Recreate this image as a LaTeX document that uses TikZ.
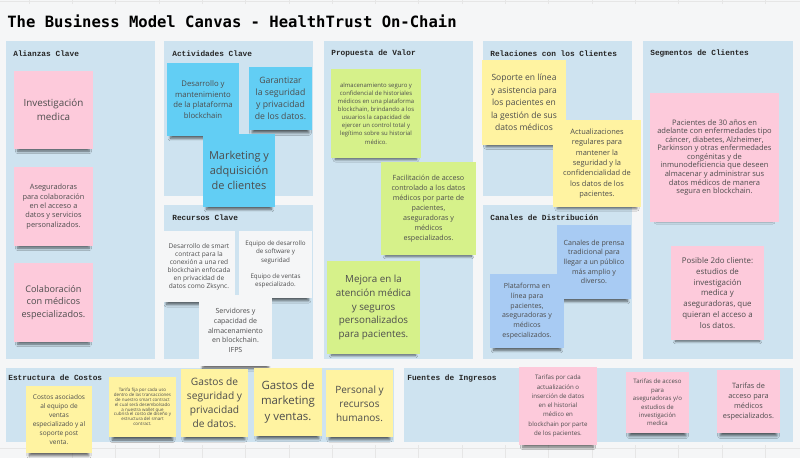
\documentclass[tikz,border=0pt]{standalone}
\usepackage{fontspec}
\usepackage{tikz}
\usetikzlibrary{shadows.blur}
\setmainfont{Open Sans}
\newfontfamily\titlefont{DejaVu Sans Mono}
\newfontfamily\headfont{Liberation Mono}
\newcommand\fs[2]{\fontsize{#1}{#2}\selectfont}
\definecolor{panelblue}{RGB}{206,227,240}
\definecolor{notepink}{RGB}{253,202,219}
\definecolor{notecyan}{RGB}{98,206,244}
\definecolor{notegreen}{RGB}{214,241,138}
\definecolor{noteyellow}{RGB}{255,243,161}
\definecolor{noteblue}{RGB}{168,203,243}
\definecolor{notewhite}{RGB}{245,246,247}
\definecolor{notetext}{RGB}{77,77,77}
\definecolor{gridgrey}{RGB}{230,230,230}

\begin{document}
\begin{tikzpicture}[x=0.02cm,y=-0.02cm,
  panel/.style={fill=panelblue},
  head/.style={anchor=west,inner sep=0pt,text=black!85,
    font=\headfont\bfseries\fs{4.45}{5}},
  wh/.style 2 args={minimum width=#1*0.02cm,minimum height=#2*0.02cm},
  note/.style={inner sep=0pt,align=center,text=notetext,
    blur shadow={shadow xshift=0pt,shadow yshift=-3.8pt,shadow scale=0.9,
      shadow opacity=60,shadow blur radius=1.6pt,shadow blur steps=6}},
  pink/.style={note,fill=notepink},
  cyan/.style={note,fill=notecyan},
  green/.style={note,fill=notegreen},
  yellow/.style={note,fill=noteyellow},
  blue/.style={note,fill=noteblue},
  white/.style={note,fill=notewhite}]
\useasboundingbox (0,0) rectangle (800,458);
\fill[white] (0,0) rectangle (800,458);
\foreach \k in {0,...,17} {
  \draw[gridgrey,line width=0.3pt] ({29+43.3*\k},0) -- ({29+43.3*\k},4);
  \draw[gridgrey,line width=0.3pt] ({29+43.3*\k},445) -- ({29+43.3*\k},458);
}
\draw[gridgrey,line width=0.3pt] (0,1.5) -- (800,1.5);
\draw[gridgrey,line width=0.3pt] (0,448) -- (800,448);

\node[anchor=west,inner sep=0pt,font=\titlefont\bfseries\fs{8.85}{10}] (title)
  at (7,21) {The Business Model Canvas - HealthTrust On-Chain};

\fill[panel] (6,41) rectangle (155,359);
\fill[panel] (164,41) rectangle (313,196);
\fill[panel] (164,205) rectangle (313,359);
\fill[panel] (324,41) rectangle (473,359);
\fill[panel] (483,41) rectangle (632,196);
\fill[panel] (483,205) rectangle (632,359);
\fill[panel] (643,41) rectangle (793,359);
\fill[panel] (6,368) rectangle (394,442);
\fill[panel] (404,368) rectangle (793,442);

\node[head] (alianzas) at (13,53.5) {Alianzas Clave};
\node[head] (actividades) at (172,53.5) {Actividades Clave};
\node[head] (recursos) at (172,218) {Recursos Clave};
\node[head] (propuesta) at (331,53.5) {Propuesta de Valor};
\node[head] (relaciones) at (490,53.5) {Relaciones con los Clientes};
\node[head] (canales) at (490,218) {Canales de Distribución};
\node[head] (segmentos) at (650,53.5) {Segmentos de Clientes};
\node[head] (costos) at (8,378) {Estructura de Costos};
\node[head] (fuentes) at (407,378) {Fuentes de Ingresos};

% Alianzas Clave
\node[pink,wh={79}{78},font=\fs{5.6}{8}] (investigacion) at (53.5,110)
  {Investigación\\medica};
\node[pink,wh={79}{79},font=\fs{4.2}{5.3}] (aseguradoras) at (53.5,206.5)
  {Aseguradoras\\para colaboración\\en el acceso a\\datos y servicios\\personalizados.};
\node[pink,wh={79}{79},font=\fs{5.2}{7.1}] (colaboracion) at (53.5,302.5)
  {Colaboración\\con médicos\\especializados.};

% Actividades Clave
\node[cyan,wh={72}{73},font=\fs{4.4}{6.1}] (desarrollo) at (203,99.5)
  {Desarrollo y\\mantenimiento\\de la plataforma\\blockchain};
\node[cyan,wh={63}{63},font=\fs{4.95}{6.8}] (garantizar) at (280.5,98.5)
  {Garantizar\\la seguridad\\y privacidad\\de los datos.};
\node[cyan,wh={72}{73},font=\fs{6.25}{8.4}] (marketing) at (239,170.5)
  {Marketing y\\adquisición\\de clientes};

% Recursos Clave
\node[white,wh={72}{71},font=\fs{3.73}{4.6}] (smart) at (199,266.5)
  {Desarrollo de smart\\contract para la\\conexión a una red\\blockchain enfocada\\en privacidad de\\datos como Zksync.};
\node[white,wh={73}{67},font=\fs{3.55}{4.7}] (equipo) at (275.5,264.5)
  {Equipo de desarrollo\\de software y\\seguridad\\[4.7pt]Equipo de ventas\\especializado.};
\node[white,wh={73}{71},font=\fs{4}{5.5}] (servidores) at (235.5,330.5)
  {Servidores y\\capacidad de\\almacenamiento\\en blockchain.\\IFPS};

% Propuesta de Valor
\node[green,wh={90}{89},font=\fs{3.4}{4.6}] (almacenamiento) at (376,113.5)
  {almacenamiento seguro y\\confidencial de historiales\\médicos en una plataforma\\blockchain, brindando a los\\usuarios la capacidad de\\ejercer un control total y\\legítimo sobre su historial\\médico.};
\node[green,wh={95}{93},font=\fs{4.07}{5.7}] (facilitacion) at (428.5,208.5)
  {Facilitación de acceso\\controlado a los datos\\médicos por parte de\\pacientes,\\aseguradoras y\\médicos\\especializados.};
\node[green,wh={93}{93},font=\fs{5.58}{7.8}] (mejora) at (373.5,307.5)
  {Mejora en la\\atención médica\\y seguros\\personalizados\\para pacientes.};

% Relaciones con los Clientes
\node[yellow,wh={84}{85},font=\fs{4.85}{7.05}] (soporte) at (524,102.5)
  {Soporte en línea\\y asistencia para\\los pacientes en\\la gestión de sus\\datos médicos};
\node[yellow,wh={88}{87},font=\fs{4.24}{5.85}] (actualizaciones) at (597,163.5)
  {Actualizaciones\\regulares para\\mantener la\\seguridad y la\\confidencialidad de\\los datos de los\\pacientes.};

% Canales de Distribucion
\node[blue,wh={74}{74},font=\fs{4.03}{5.5}] (prensa) at (594,262)
  {Canales de prensa\\tradicional para\\llegar a un público\\más amplio y\\diverso.};
\node[blue,wh={74}{74},font=\fs{4}{5.5}] (plataforma) at (527,311)
  {Plataforma en\\línea para\\pacientes,\\aseguradoras y\\médicos\\especializados.};

% Segmentos de Clientes
\node[pink,wh={129}{129},font=\fs{4.3}{4.85}] (pacientes) at (714.5,157.5)
  {Pacientes de 30 años en\\adelante con enfermedades tipo\\cáncer, diabetes, Alzheimer,\\Parkinson y otras enfermedades\\congénitas y de\\inmunodeficiencia que deseen\\almacenar y administrar sus\\datos médicos de manera\\segura en blockchain.};
\node[pink,wh={93}{94},font=\fs{4.5}{6.1}] (posible) at (717.5,293)
  {Posible 2do cliente:\\estudios de\\investigación\\medica y\\aseguradoras, que\\quieran el acceso a\\los datos.};

% Estructura de Costos
\node[yellow,wh={66}{67},font=\fs{3.7}{5.1}] (costosventas) at (59,419.5)
  {Costos asociados\\al equipo de\\ventas\\especializado y al\\soporte post\\venta.};
\node[yellow,wh={67}{60},font=\fs{2.55}{2.75}] (tarifafija) at (142.5,407)
  {Tarifa fija por cada uso\\dentro de las transacciones\\de nuestro smart contract\\el cual será desembolsado\\a nuestra wallet que\\cubrirá el costo de diseño y\\estructura del smart\\contract.};
\node[yellow,wh={67}{68},font=\fs{5.8}{7.9}] (gastosseguridad) at (214.5,403)
  {Gastos de\\seguridad y\\privacidad\\de datos.};
\node[yellow,wh={68}{68},font=\fs{6.5}{9}] (gastosmarketing) at (288,402)
  {Gastos de\\marketing\\y ventas.};
\node[yellow,wh={67}{67},font=\fs{5.7}{8}] (personal) at (359.5,403.5)
  {Personal y\\recursos\\humanos.};

% Fuentes de Ingresos
\node[pink,wh={78}{78},font=\fs{3.5}{5.25}] (tarifasdatos) at (558,406)
  {Tarifas por cada\\actualización o\\inserción de datos\\en el historial\\médico en\\blockchain por parte\\de los pacientes.};
\node[pink,wh={63}{61},font=\fs{3.46}{4.8}] (tarifasaseg) at (657.5,402.5)
  {Tarifas de acceso\\para\\aseguradoras y/o\\estudios de\\investigación\\medica};
\node[pink,wh={63}{63},font=\fs{4.17}{5.7}] (tarifasmedicos) at (748.5,401.5)
  {Tarifas de\\acceso para\\médicos\\especializados.};
\end{tikzpicture}
\end{document}
